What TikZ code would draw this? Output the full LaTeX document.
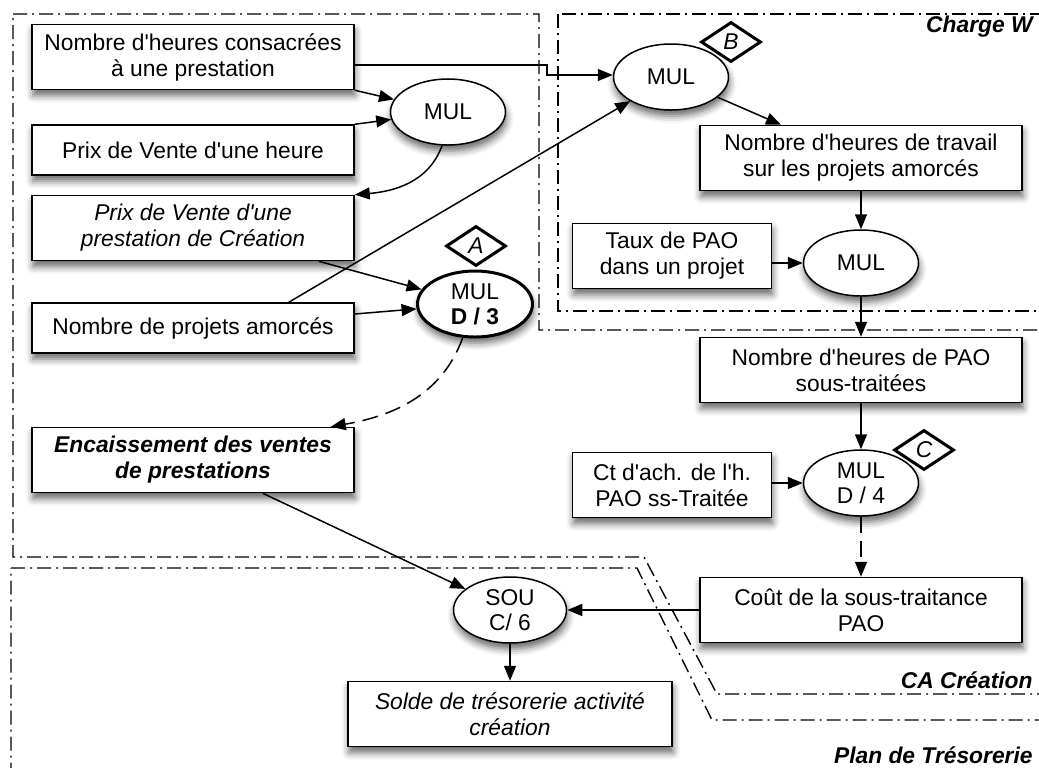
\documentclass[tikz,border=0pt]{standalone}
\usepackage{fontspec}
\setmainfont{Liberation Sans}[Ligatures=TeXOff]
\usepackage{tikz}
\usetikzlibrary{shapes, arrows.meta, positioning, calc, shadows.blur}

\begin{document}
\begin{tikzpicture}[
  x=0.5pt, y=-0.5pt,
  shade/.style={blur shadow={shadow xshift=0.5pt, shadow yshift=-3pt,
              shadow blur radius=3.5pt, shadow opacity=60}},
  box/.style={draw, fill=white, line width=0.75pt, minimum width=161pt,
              minimum height=25pt, align=center, inner sep=2pt,
              font=\fontsize{11.4}{13}\selectfont, shade},
  tall/.style={minimum height=32.5pt},
  small/.style={box, tall, minimum width=99.5pt},
  op/.style={ellipse, draw, fill=white, line width=0.75pt, minimum width=57.5pt,
              minimum height=33pt, inner sep=0pt, align=center,
              font=\fontsize{11.4}{12.5}\selectfont, shade},
  tag/.style={diamond, draw, fill=white, line width=1.5pt, minimum width=30pt,
              minimum height=20pt, inner sep=0pt,
              font=\fontsize{11.4}{13}\selectfont\itshape},
  zone/.style={line width=0.7pt, dash pattern=on 7pt off 2.5pt on 1pt off 2.5pt},
  zonelabel/.style={anchor=east, inner sep=0pt,
              font=\fontsize{11.4}{13}\selectfont\bfseries\itshape},
  arr/.style={-{Triangle[length=7.5pt,width=6pt]}, line width=0.75pt},
  dsh/.style={arr, dash pattern=on 8pt off 4pt}
]
  \useasboundingbox (0,0) rectangle (1039,767);
  \begin{scope}
    \clip (0,0) rectangle (1039,767);
    \draw[zone] (558,14) rectangle (1050,311);
    \draw[zone] (13,14) -- (539,14) -- (539,330) -- (1050,330) -- (1050,694)
      -- (717,694) -- (644,557) -- (13,557) -- cycle;
    \draw[zone] (11,568) -- (637,568) -- (712,720) -- (1050,720) -- (1050,780)
      -- (11,780) -- cycle;
  \end{scope}
  \node[zonelabel] (lblW) at (1033,27) {Charge W};
  \node[zonelabel] (lblCA) at (1033,680) {CA Création};
  \node[zonelabel] (lblPT) at (1033,755) {Plan de Trésorerie};

  \node[box, tall] (nbh) at (193,57) {Nombre d'heures consacrées\\à une prestation};
  \node[box] (pvh) at (193,150) {Prix de Vente d'une heure};
  \node[box, tall, font=\fontsize{11.4}{13}\selectfont\itshape] (pvc) at (193,228) {Prix de Vente d'une\\prestation de Création};
  \node[box] (npa) at (193,328) {Nombre de projets amorcés};
  \node[box, tall, font=\fontsize{11.4}{13}\selectfont\bfseries\itshape] (enc) at (193,460) {Encaissement des ventes\\de prestations};
  \node[op] (mul1) at (448,112) {MUL};
  \node[op, line width=1.5pt, inner ysep=-2pt] (muld3) at (475,304) {MUL\\\textbf{D / 3}};
  \node[op] (mulB) at (671,77) {MUL};
  \node[box, tall] (nht) at (861,158) {Nombre d'heures de travail\\sur les projets amorcés};
  \node[small] (taux) at (672,256) {Taux de PAO\\dans un projet};
  \node[op] (mul3) at (861,263) {MUL};
  \node[box, tall] (pao) at (861,370) {Nombre d'heures de PAO\\sous-traitées};
  \node[op, inner ysep=-2pt] (mulC) at (861,483) {MUL\\D / 4};
  \node[small] (ctach) at (672,485) {Ct d'ach. de l'h.\\PAO ss-Traitée};
  \node[box, tall] (cout) at (861,610) {Coût de la sous-traitance\\PAO};
  \node[op, inner ysep=-2pt, minimum width=56.5pt] (sou) at (510,610) {SOU\\C/ 6};
  \node[box, tall, minimum width=162pt, font=\fontsize{11.4}{13}\selectfont\itshape] (solde) at (510,714) {Solde de trésorerie activité\\création};
  \node[tag] (tagA) at (476,246) {A};
  \node[tag] (tagB) at (731,42) {B};
  \node[tag] (tagC) at (924,450) {C};

  \coordinate (jog) at (547,65);
  \draw[arr] (nbh.south east) -- (mul1);
  \draw[arr] (pvh.north east) -- (mul1);
  \draw[arr] (mul1.-100) to[out=-110, in=5] (pvc.north east);
  \draw[arr] ([xshift=-18pt]pvc.south east) -- (muld3);
  \draw[arr] ([yshift=7pt]npa.east) -- (muld3);
  \draw[arr] ([xshift=-33pt]npa.north east) -- (mulB);
  \draw[arr] (nbh.east |- jog) -- (jog) -- ++(0,10) -- ([yshift=1pt]mulB.west);
  \draw[arr] (mulB) -- ([xshift=-40pt]nht.north);
  \draw[arr] (nht) -- (mul3);
  \draw[arr] (taux.east |- mul3) -- (mul3);
  \draw[arr] (mul3) -- (pao);
  \draw[arr] (pao) -- (mulC);
  \draw[arr] (ctach.east |- mulC) -- (mulC);
  \draw[dsh] (mulC) -- (cout);
  \draw[dsh] (muld3.-110) to[out=-110, in=10] ([xshift=-12pt]enc.north east);
  \draw[arr] ([xshift=-46pt]enc.south east) -- (sou);
  \draw[arr] (cout.west) -- (sou);
  \draw[arr] (sou) -- (solde);
\end{tikzpicture}
\end{document}
